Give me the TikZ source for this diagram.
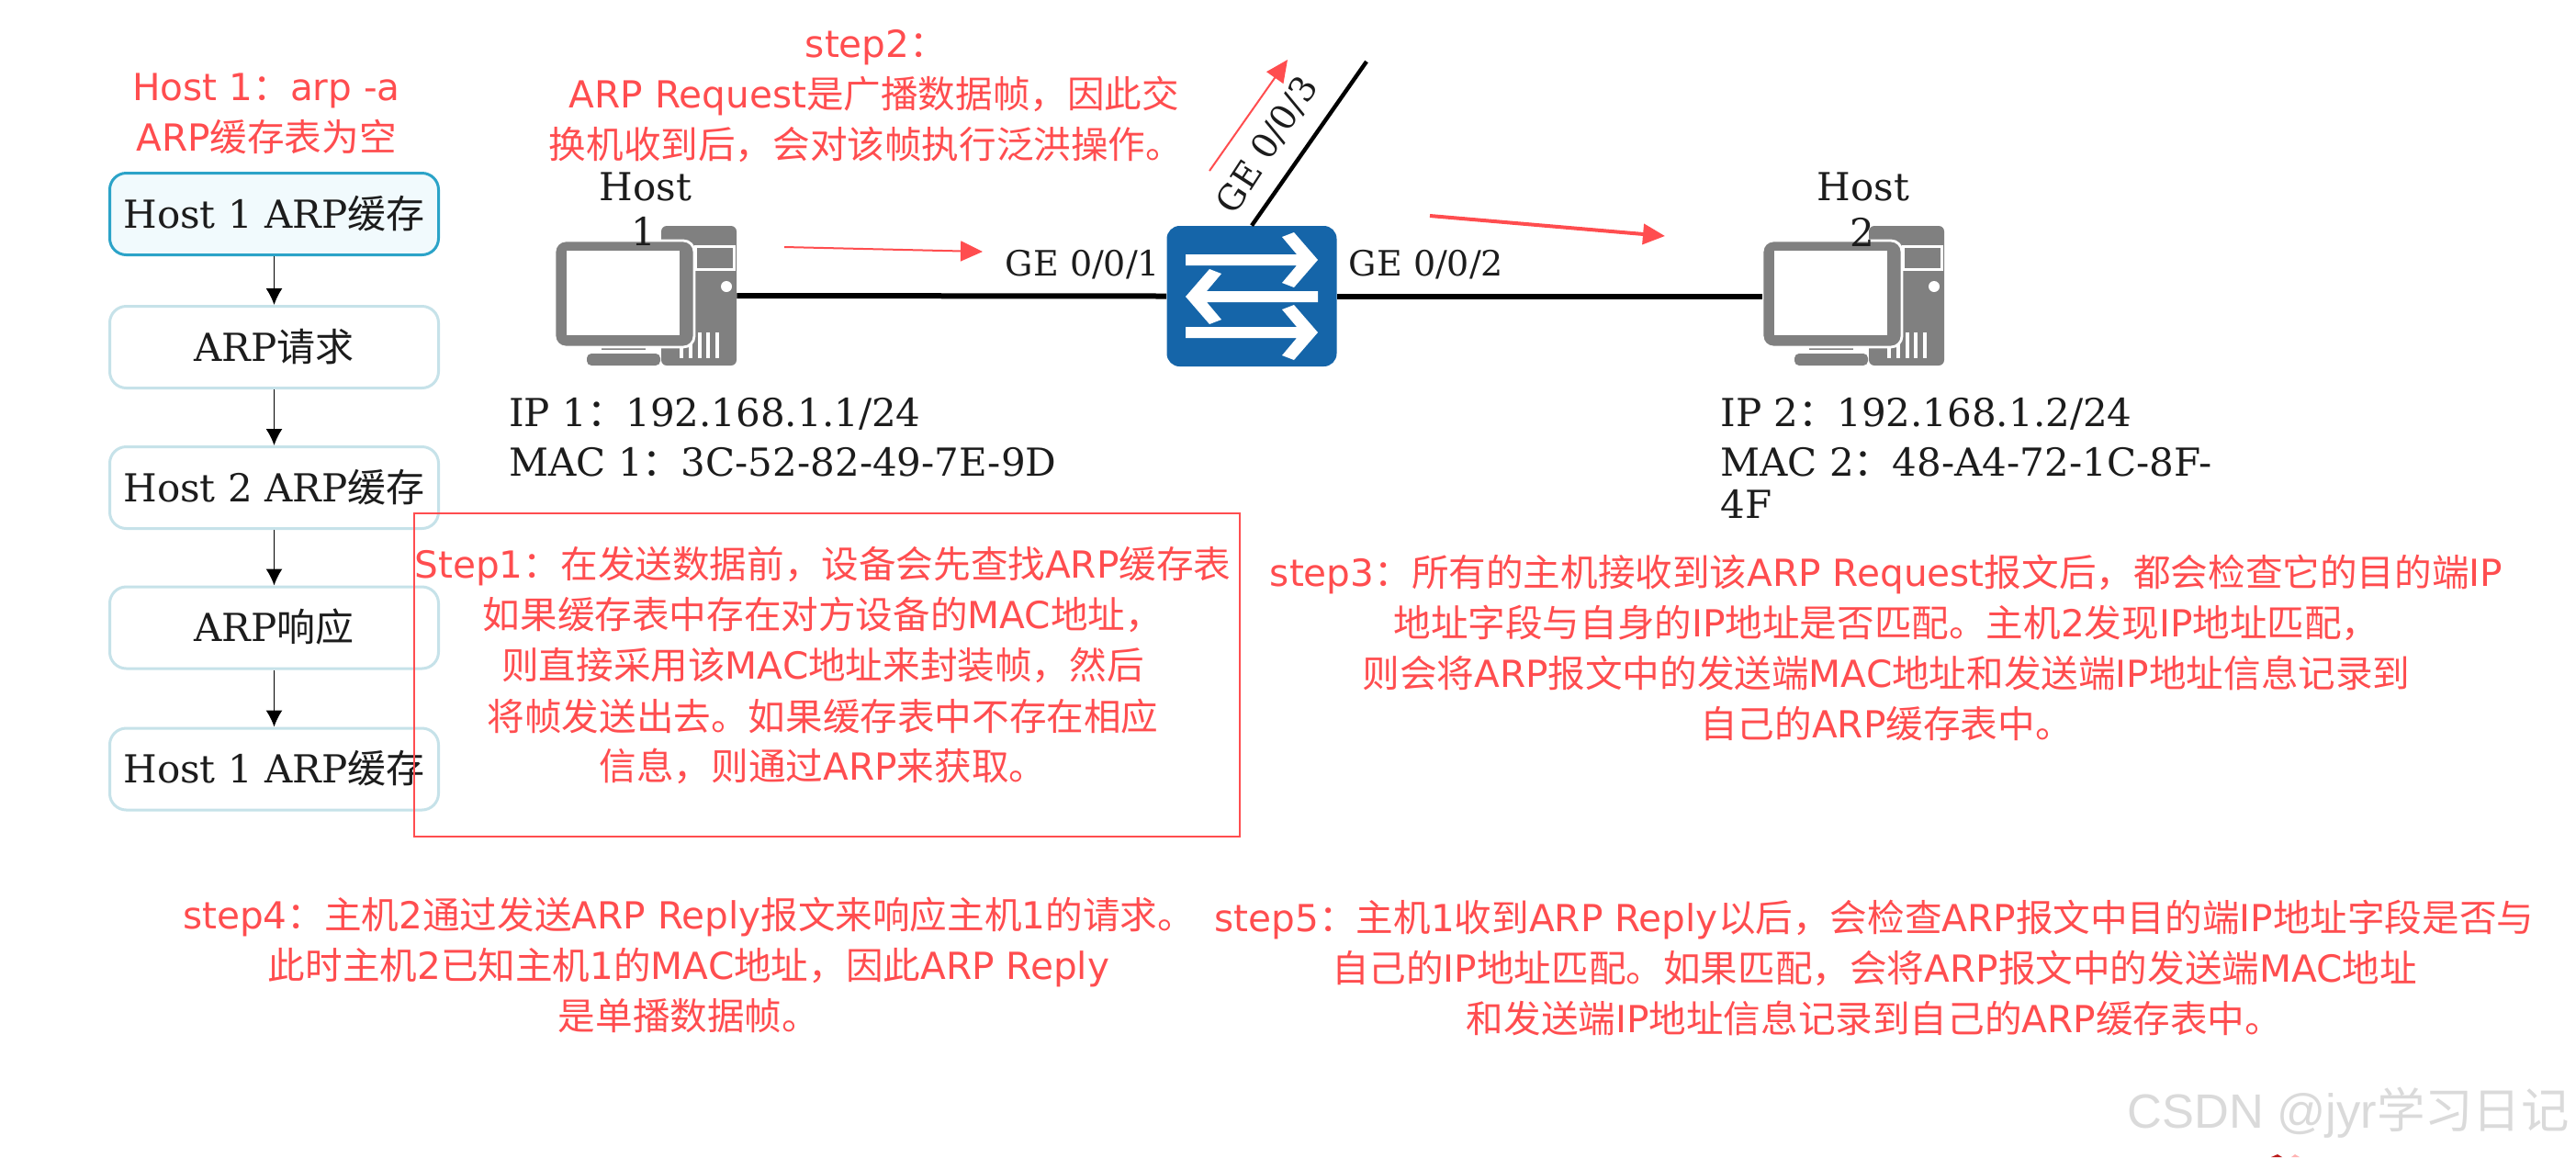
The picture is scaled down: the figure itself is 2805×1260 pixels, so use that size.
\documentclass[tikz,border=0pt]{standalone}
\usepackage{fontspec}
\usetikzlibrary{arrows.meta}
\setmainfont{DejaVu Serif}
\newfontfamily\redlatin{DejaVu Sans}
\newfontfamily\cjk{Noto Sans CJK SC}
\newfontfamily\wmfont{Liberation Sans}
\newcommand\Z[1]{{\cjk #1}}
\definecolor{redtxt}{HTML}{FF4D4F}
\definecolor{inktxt}{HTML}{1C1C1C}
\definecolor{hostgrey}{HTML}{808080}
\definecolor{swblue}{HTML}{1565A9}
\definecolor{boxedge}{HTML}{C6E2E9}
\definecolor{boxhi}{HTML}{2BA3C8}
\definecolor{boxhifill}{HTML}{F1FAFD}
\definecolor{wmgrey}{HTML}{DADADA}
\tikzset{
  flowbox/.style={draw=boxedge,fill=white,line width=1.5pt,rounded corners=9pt,minimum width=179pt,minimum height=44.5pt,inner sep=0pt,text=inktxt,text height=19pt,text depth=3.7pt,font=\fontsize{21}{25}\selectfont},
  flowhi/.style={flowbox,draw=boxhi,fill=boxhifill},
  flowarrow/.style={line width=.8pt,-{Latex[length=9pt,width=9pt]}},
  redtext/.style={text=redtxt,align=center,inner sep=0pt,font=\fontsize{20.3}{27.5}\selectfont\redlatin},
  blacktext/.style={text=inktxt,inner sep=0pt,font=\fontsize{21}{25}\selectfont},
  hostlabel/.style={blacktext,align=center,font=\fontsize{21}{25}\selectfont},
  infotext/.style={blacktext,align=left,anchor=west,font=\fontsize{21}{24}\selectfont},
  portlabel/.style={blacktext,font=\fontsize{19}{23}\selectfont},
  netlink/.style={line width=3pt,black},
  redarrow/.style={draw=redtxt,line width=1.2pt,-{Triangle[length=12pt,width=11pt]}},
  hostbox/.style={minimum width=99pt,minimum height=76pt,inner sep=0pt},
  swbox/.style={fill=swblue,rounded corners=7pt,minimum width=92.5pt,minimum height=76.5pt,inner sep=0pt},
}
\newcommand\hosticon[1]{%
\begin{scope}[shift={(#1,0)}]
  \fill[hostgrey,rounded corners=3pt] (720,246) rectangle (802,398);
  \foreach \vx in {742,752,762,771,781}{\draw[white,line width=1.7pt] (\vx,362) -- (\vx,390);}
  \draw[white,line width=1.5pt,fill=hostgrey] (757,268) rectangle (799,293);
  \fill[white] (791,312) circle (6);
  \fill[hostgrey] (655,372) rectangle (703,381);
  \fill[hostgrey,rounded corners=2.5pt] (639,398) -- (639,385) -- (719,385) -- (719,398) -- cycle;
  \draw[white,line width=1.4pt,fill=hostgrey,rounded corners=6pt] (604,262) rectangle (756,378);
  \fill[white] (617,273) rectangle (740,365);
\end{scope}}
\begin{document}
\begin{tikzpicture}[x=0.5pt,y=-0.5pt]
\useasboundingbox (0,0) rectangle (2805,1260);
\fill[white] (0,0) rectangle (2805,1260);

% flow column
\node[flowhi]  (b1) at (298.5,233) {Host 1 ARP\Z{缓存}};
\node[flowbox] (b2) at (298.5,378) {ARP\Z{请求}};
\node[flowbox] (b3) at (298.5,531) {Host 2 ARP\Z{缓存}};
\node[flowbox] (b4) at (298.5,683.5) {ARP\Z{响应}};
\node[flowbox] (b5) at (298.5,837.5) {Host 1 ARP\Z{缓存}};
\draw[flowarrow] (b1) -- (b2);
\draw[flowarrow] (b2) -- (b3);
\draw[flowarrow] (b3) -- (b4);
\draw[flowarrow] (b4) -- (b5);

% network
\node[hostbox] (h1) at (703,322) {};
\node[hostbox] (h2) at (2018,322) {};
\node[minimum width=76pt,minimum height=58pt,inner sep=0pt] (h2m) at (1995.5,320) {};
\node[swbox] (sw) at (1363,322.5) {};
\coordinate (trunkend) at (1488,67);
\draw[line width=2.2pt,black] (sw.north) -- (trunkend);
\hosticon{0}
\hosticon{1315}
\draw[netlink] (h1.east) -- (sw.west);
\draw[netlink] (sw.east) -- (h2m.west |- sw.east);

% switch arrows
\fill[white] (1291,277) -- (1412,277) -- (1396,258) -- (1409,253) -- (1435,283) -- (1409,313) -- (1396,308) -- (1412,289) -- (1291,289) -- cycle;
\fill[white] (1435,317) -- (1314,317) -- (1330,298) -- (1317,293) -- (1291,323) -- (1317,353) -- (1330,348) -- (1314,329) -- (1435,329) -- cycle;
\fill[white] (1291,356) -- (1412,356) -- (1396,337) -- (1409,332) -- (1435,362) -- (1409,392) -- (1396,387) -- (1412,368) -- (1291,368) -- cycle;

% red arrows
\coordinate (ra1s) at (854,269); \coordinate (ra1e) at (1070,274);
\coordinate (ra2s) at (1317,186); \coordinate (ra2e) at (1402,65);
\coordinate (ra3s) at (1557,235); \coordinate (ra3e) at (1813,257);
\draw[redarrow,line width=1pt] (ra1s) -- (ra1e);
\draw[redarrow,line width=1pt] (ra2s) -- (ra2e);
\draw[redarrow,line width=2pt] (ra3s) -- (ra3e);

% labels
\node[hostlabel] (hl1a) at (703,203) {Host};
\node[hostlabel] (hl1b) at (701,252) {1};
\node[hostlabel] (hl2a) at (2029,203) {Host};
\node[hostlabel] (hl2b) at (2028,253) {2};
\node[portlabel] (p1) at (1179,288) {GE 0/0/1};
\node[portlabel] (p2) at (1553,288) {GE 0/0/2};
\node[portlabel,rotate=57] (p3) at (1380,158) {GE 0/0/3};
\node[infotext] (ip1) at (554,451) {IP 1\Z{：}192.168.1.1/24};
\node[infotext] (mac1) at (554,503) {MAC 1\Z{：}3C-52-82-49-7E-9D};
\node[infotext] (ip2) at (1873,451) {IP 2\Z{：}192.168.1.2/24};
\node[infotext] (mac2) at (1873,503) {MAC 2\Z{：}48-A4-72-1C-8F-};
\node[infotext] (mac2b) at (1873,549) {4F};

% red notes
\node[redtext] (hn) at (290,124) {Host 1\Z{：}arp -a\\ARP\Z{缓存表为空}};
\node[redtext] (s2) at (943,105) {\hspace*{11pt}step2\Z{：}\\\hspace*{9pt}ARP Request\Z{是广播数据帧，因此交}\\\Z{换机收到后，会对该帧执行泛洪操作。}};
\node[draw=redtxt,line width=1.2pt,minimum width=449.5pt,minimum height=176pt,inner sep=0pt] (s1box) at (900.5,735) {};
\node[redtext] (s1) at (896,725) {Step1\Z{：在发送数据前，设备会先查找}ARP\Z{缓存表}\\\Z{如果缓存表中存在对方设备的}MAC\Z{地址，}\\\Z{则直接采用该}MAC\Z{地址来封装帧，然后}\\\Z{将帧发送出去。如果缓存表中不存在相应}\\\Z{信息，则通过}ARP\Z{来获取。}};
\node[redtext] (s3) at (2054,705) {step3\Z{：所有的主机接收到该}ARP Request\Z{报文后，都会检查它的目的端}IP\\\Z{地址字段与自身的}IP\Z{地址是否匹配。主机}2\Z{发现}IP\Z{地址匹配，}\\\Z{则会将}ARP\Z{报文中的发送端}MAC\Z{地址和发送端}IP\Z{地址信息记录到}\\\Z{自己的}ARP\Z{缓存表中。}};
\node[redtext] (s4) at (750,1051) {step4\Z{：主机}2\Z{通过发送}ARP Reply\Z{报文来响应主机}1\Z{的请求。}\\\Z{此时主机}2\Z{已知主机}1\Z{的}MAC\Z{地址，因此}ARP Reply\\\Z{是单播数据帧。}};
\node[redtext] (s5) at (2041,1054) {step5\Z{：主机}1\Z{收到}ARP Reply\Z{以后，会检查}ARP\Z{报文中目的端}IP\Z{地址字段是否与}\\\Z{自己的}IP\Z{地址匹配。如果匹配，会将}ARP\Z{报文中的发送端}MAC\Z{地址}\\\Z{和发送端}IP\Z{地址信息记录到自己的}ARP\Z{缓存表中。}};

% watermark
\node[anchor=east,inner sep=0pt,text=wmgrey,font=\fontsize{26.2}{30}\selectfont\wmfont] (wm) at (2798,1212) {CSDN @jyr\Z{学习日记}};
\fill[red!70!black!90] (2473,1260) -- (2480,1257) -- (2485,1260) -- cycle;
\fill[red!30] (2495,1260) -- (2499,1257) -- (2504,1260) -- cycle;
\end{tikzpicture}
\end{document}
